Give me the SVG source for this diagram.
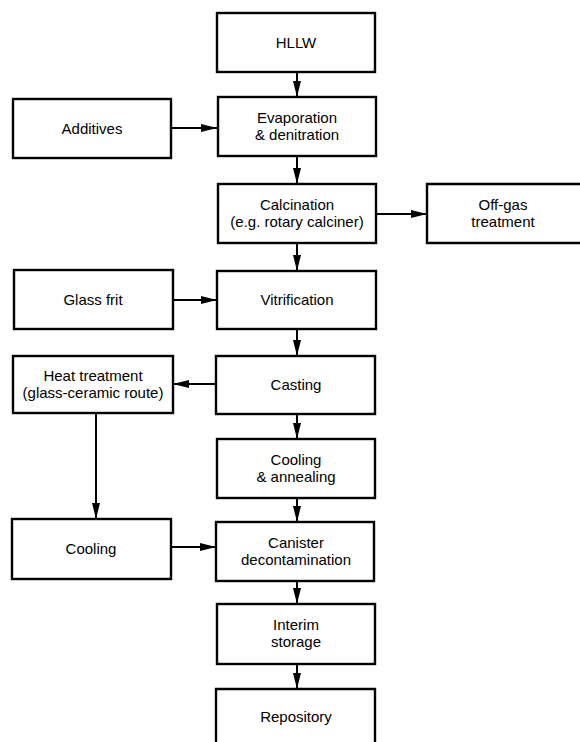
<svg xmlns="http://www.w3.org/2000/svg" width="580" height="742" viewBox="0 0 580 742">
<style>
.box{fill:#fff;stroke:#000;stroke-width:2.4}
.open{fill:none;stroke:#000;stroke-width:2.4}
.t{font-family:"Liberation Sans",Arial,Helvetica,sans-serif;font-size:15px;fill:#000;text-anchor:middle}
.c{stroke:#000;stroke-width:2;fill:none;marker-end:url(#ah)}
</style>
<defs>
<marker id="ah" markerUnits="userSpaceOnUse" markerWidth="16" markerHeight="8" refX="16" refY="4" orient="auto" viewBox="0 0 16 8">
<path d="M0,0 L16,4 L0,8 z" fill="#000"/>
</marker>
</defs>
<rect width="580" height="742" fill="#fff"/>
<g id="connectors">
<line class="c" x1="297" y1="72" x2="297" y2="97"/>
<line class="c" x1="171" y1="128" x2="217" y2="128"/>
<line class="c" x1="297" y1="156" x2="297" y2="184"/>
<line class="c" x1="375" y1="214" x2="427" y2="214"/>
<line class="c" x1="297" y1="243" x2="297" y2="271"/>
<line class="c" x1="173" y1="300" x2="217" y2="300"/>
<line class="c" x1="297" y1="329" x2="297" y2="356"/>
<line class="c" x1="216" y1="384" x2="173" y2="384"/>
<line class="c" x1="96" y1="413" x2="96" y2="519"/>
<line class="c" x1="297" y1="414" x2="297" y2="439"/>
<line class="c" x1="297" y1="498" x2="297" y2="522"/>
<line class="c" x1="171" y1="547" x2="216" y2="547"/>
<line class="c" x1="297" y1="581" x2="297" y2="604"/>
<line class="c" x1="297" y1="664" x2="297" y2="689"/>
</g>
<g id="hllw"><rect class="box" x="217" y="13" width="158" height="59"/><text class="t" x="296" y="47.5">HLLW</text></g>
<g id="additives"><rect class="box" x="13" y="99" width="158" height="59"/><text class="t" x="92" y="133.5">Additives</text></g>
<g id="evaporation"><rect class="box" x="218" y="97" width="158" height="59"/><text class="t" x="297" y="122.7">Evaporation</text><text class="t" x="297" y="140">&amp; denitration</text></g>
<g id="calcination"><rect class="box" x="218" y="184" width="158" height="59"/><text class="t" x="297" y="209.7">Calcination</text><text class="t" x="297" y="227">(e.g. rotary calciner)</text></g>
<g id="offgas"><path class="open" d="M581,184 H427 V243 H581"/><text class="t" x="503" y="209.7">Off-gas</text><text class="t" x="503" y="227">treatment</text></g>
<g id="glassfrit"><rect class="box" x="14" y="270" width="159" height="59"/><text class="t" x="93" y="305">Glass frit</text></g>
<g id="vitrification"><rect class="box" x="217" y="271" width="159" height="58"/><text class="t" x="297" y="305">Vitrification</text></g>
<g id="heattreatment"><rect class="box" x="13" y="356" width="160" height="57"/><text class="t" x="93" y="380.7">Heat treatment</text><text class="t" x="93" y="398">(glass-ceramic route)</text></g>
<g id="casting"><rect class="box" x="216" y="356" width="159" height="58"/><text class="t" x="296" y="390">Casting</text></g>
<g id="coolingannealing"><rect class="box" x="217" y="439" width="158" height="59"/><text class="t" x="296" y="464.7">Cooling</text><text class="t" x="296" y="482">&amp; annealing</text></g>
<g id="cooling"><rect class="box" x="12" y="519" width="159" height="60"/><text class="t" x="91" y="554">Cooling</text></g>
<g id="canister"><rect class="box" x="216" y="522" width="158" height="59"/><text class="t" x="296" y="547.7">Canister</text><text class="t" x="296" y="565">decontamination</text></g>
<g id="interim"><rect class="box" x="217" y="604" width="158" height="60"/><text class="t" x="296" y="629.7">Interim</text><text class="t" x="296" y="647">storage</text></g>
<g id="repository"><path class="open" d="M216,743 V689 H375 V743"/><text class="t" x="296" y="722">Repository</text></g>
</svg>
